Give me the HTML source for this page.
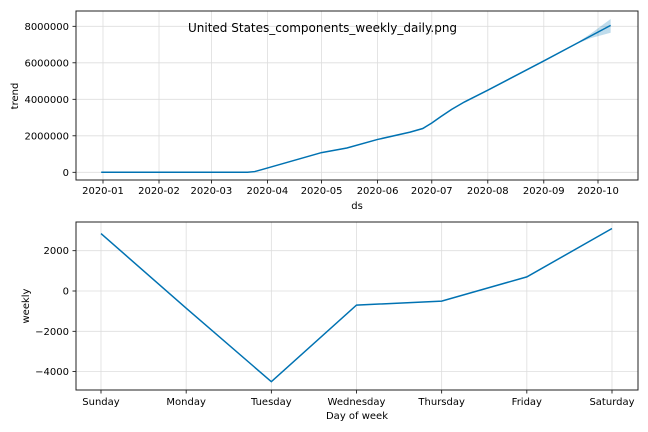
<!DOCTYPE html>
<html><head><meta charset="utf-8"><style>
html,body{margin:0;padding:0;background:#fff;}
svg{display:block;font-family:"DejaVu Sans","Liberation Sans",sans-serif;}
</style></head><body>
<svg id="chart" width="648" height="432" viewBox="0 0 648 432">
<g id="topPanel"></g>
<g id="botPanel"></g>
<text x="188" y="32" font-size="12" fill="#000">United States_components_weekly_daily.png</text>
</svg>
<script>
// Trend data (day offset from 2020-01-01, value)
const trendDays = [-1, 80, 84, 88, 121, 135, 152, 170, 177, 182, 187, 193, 200, 213, 244, 262, 281];
const trendVals = [0, 0, 40000, 150000, 1080000, 1330000, 1800000, 2200000, 2400000, 2700000, 3050000, 3450000, 3850000, 4500000, 6100000, 7050000, 8050000];
const bandDays = [262, 270, 281];
const bandUpper = [7070000, 7600000, 8400000];
const bandLower = [7030000, 7350000, 7650000];
const trendTicks = [0, 2000000, 4000000, 6000000, 8000000];
const monthLabels = ["2020-01","2020-02","2020-03","2020-04","2020-05","2020-06","2020-07","2020-08","2020-09","2020-10"];
const monthDays = [0, 31, 60, 91, 121, 152, 182, 213, 244, 274];
// Weekly data
const weekDays = ["Sunday","Monday","Tuesday","Wednesday","Thursday","Friday","Saturday"];
const weeklyVals = [2850, -850, -4500, -700, -500, 700, 3100];
const weeklyTicks = [-4000, -2000, 0, 2000];

const NS = "http://www.w3.org/2000/svg";
function mk(parent, tag, attrs, text){
  const e = document.createElementNS(NS, tag);
  for (const k in attrs) e.setAttribute(k, attrs[k]);
  if (text !== undefined) e.textContent = text;
  parent.appendChild(e); return e;
}
const AX_L = 76, AX_R = 638;
// Top axes
const tx = d => 103 + d * (495 / 274);
const ty = v => 172.3 - v / 2000000 * 36.5;
const topG = document.getElementById('topPanel');
monthDays.forEach((d, i) => {
  const g = mk(topG, 'line', {x1: tx(d), x2: tx(d), y1: 11, y2: 180, stroke: '#ddd', 'stroke-width': 0.8});
  
  
  const tk = mk(topG, 'line', {x1: tx(d), x2: tx(d), y1: 180, y2: 183.5, stroke: '#000', 'stroke-width': 0.8});
  
  
  const t = mk(topG, 'text', {x: tx(d), y: 194, 'font-size': 10, 'text-anchor': 'middle'}, monthLabels[i]);
  
  
});
trendTicks.forEach(v => {
  const g = mk(topG, 'line', {x1: AX_L, x2: AX_R, y1: ty(v), y2: ty(v), stroke: '#ddd', 'stroke-width': 0.8});
  
  
  const tk = mk(topG, 'line', {x1: AX_L - 3.5, x2: AX_L, y1: ty(v), y2: ty(v), stroke: '#000', 'stroke-width': 0.8});
  
  
  const t = mk(topG, 'text', {x: AX_L - 7, y: ty(v) + 3.5, 'font-size': 10, 'text-anchor': 'end'}, String(v));
  
  
});
let bp = bandDays.map((d, i) => tx(d) + ',' + ty(bandUpper[i]));
bp = bp.concat(bandDays.map((d, i) => tx(d) + ',' + ty(bandLower[i])).reverse());
const band = mk(topG, 'polygon', {points: bp.join(' '), fill: '#0072B2', 'fill-opacity': 0.25});


const tl = mk(topG, 'polyline', {points: trendDays.map((d, i) => tx(d) + ',' + ty(trendVals[i])).join(' '), fill: 'none', stroke: '#0072B2', 'stroke-width': 1.5});


const fr = mk(topG, 'rect', {x: AX_L, y: 11, width: AX_R - AX_L, height: 169, fill: 'none', stroke: '#222', 'stroke-width': 1});


const xl = mk(topG, 'text', {x: 357, y: 209, 'font-size': 10, 'text-anchor': 'middle'}, 'ds');


const yl = mk(topG, 'text', {x: 18, y: 96, 'font-size': 10, 'text-anchor': 'middle', transform: 'rotate(-90 18 96)'}, 'trend');



// Bottom axes
const bx = i => 101 + i * (511 / 6);
const by = v => 291 - v / 2000 * 40.3;
const botG = document.getElementById('botPanel');
weekDays.forEach((d, i) => {
  const g = mk(botG, 'line', {x1: bx(i), x2: bx(i), y1: 222, y2: 390, stroke: '#ddd', 'stroke-width': 0.8});
  
  
  const tk = mk(botG, 'line', {x1: bx(i), x2: bx(i), y1: 390, y2: 393.5, stroke: '#000', 'stroke-width': 0.8});
  
  
  const t = mk(botG, 'text', {x: bx(i), y: 405, 'font-size': 10, 'text-anchor': 'middle'}, d);
  
  
});
weeklyTicks.forEach(v => {
  const g = mk(botG, 'line', {x1: AX_L, x2: AX_R, y1: by(v), y2: by(v), stroke: '#ddd', 'stroke-width': 0.8});
  
  
  const tk = mk(botG, 'line', {x1: AX_L - 3.5, x2: AX_L, y1: by(v), y2: by(v), stroke: '#000', 'stroke-width': 0.8});
  
  
  const t = mk(botG, 'text', {x: AX_L - 7, y: by(v) + 3.5, 'font-size': 10, 'text-anchor': 'end'}, String(v).replace('-', '\u2212'));
  
  
});
const wl = mk(botG, 'polyline', {points: weeklyVals.map((v, i) => bx(i) + ',' + by(v)).join(' '), fill: 'none', stroke: '#0072B2', 'stroke-width': 1.5});


const fr2 = mk(botG, 'rect', {x: AX_L, y: 222, width: AX_R - AX_L, height: 168, fill: 'none', stroke: '#222', 'stroke-width': 1});


const xl2 = mk(botG, 'text', {x: 357, y: 419, 'font-size': 10, 'text-anchor': 'middle'}, 'Day of week');


const yl2 = mk(botG, 'text', {x: 29, y: 306, 'font-size': 10, 'text-anchor': 'middle', transform: 'rotate(-90 29 306)'}, 'weekly');


</script>
</body></html>
